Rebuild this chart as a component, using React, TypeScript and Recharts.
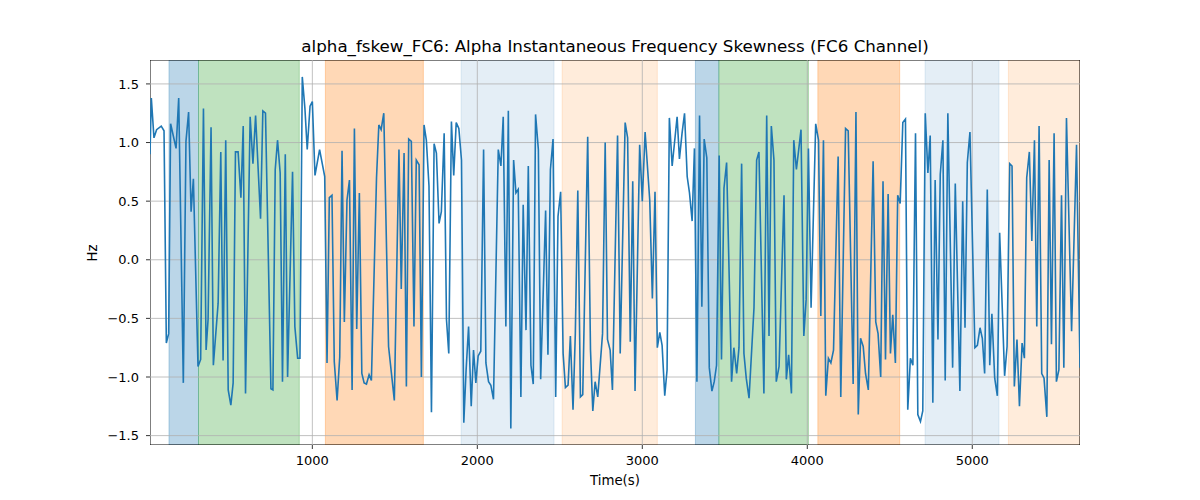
import React from "react";
import { LineChart, Line, XAxis, YAxis, ReferenceArea, ReferenceLine } from "recharts";

const times = [
  16, 24, 40, 56, 84, 101, 115, 129, 141, 174,
  190, 218, 234, 250, 265, 279, 307, 323, 340, 356,
  368, 386, 400, 429, 445, 459, 475, 490, 506, 520,
  534, 550, 567, 581, 595, 623, 640, 656, 686, 700,
  716, 749, 761, 775, 789, 805, 819, 836, 850, 880,
  894, 911, 925, 939, 955, 969, 986, 1000, 1016, 1044,
  1075, 1089, 1103, 1119, 1133, 1150, 1166, 1180, 1194, 1210,
  1225, 1241, 1255, 1269, 1285, 1300, 1314, 1328, 1344, 1358,
  1389, 1403, 1417, 1433, 1462, 1497, 1525, 1539, 1556, 1570,
  1584, 1600, 1616, 1630, 1647, 1661, 1677, 1691, 1707, 1722,
  1738, 1752, 1768, 1782, 1799, 1813, 1827, 1843, 1857, 1872,
  1888, 1904, 1918, 1932, 1947, 1963, 1977, 1991, 2005, 2021,
  2038, 2052, 2068, 2082, 2098, 2127, 2143, 2157, 2173, 2188,
  2203, 2220, 2234, 2248, 2264, 2278, 2295, 2309, 2325, 2339,
  2353, 2370, 2384, 2414, 2428, 2443, 2459, 2475, 2489, 2505,
  2520, 2534, 2550, 2564, 2580, 2594, 2609, 2625, 2639, 2669,
  2686, 2700, 2714, 2730, 2759, 2775, 2789, 2805, 2819, 2850,
  2866, 2896, 2911, 2927, 2942, 2956, 2984, 3000, 3017, 3045,
  3061, 3077, 3091, 3106, 3120, 3136, 3150, 3164, 3181, 3211,
  3225, 3241, 3256, 3272, 3286, 3302, 3316, 3331, 3347, 3361,
  3375, 3391, 3406, 3422, 3436, 3450, 3466, 3480, 3495, 3511,
  3541, 3555, 3572, 3586, 3602, 3616, 3630, 3647, 3677, 3693,
  3707, 3737, 3754, 3768, 3782, 3798, 3812, 3829, 3859, 3873,
  3887, 3904, 3918, 3934, 3948, 3962, 3979, 3993, 4007, 4023,
  4051, 4068, 4082, 4098, 4112, 4128, 4143, 4159, 4187, 4203,
  4232, 4248, 4278, 4295, 4309, 4323, 4339, 4353, 4370, 4399,
  4415, 4429, 4445, 4459, 4474, 4490, 4504, 4518, 4534, 4548,
  4563, 4579, 4595, 4609, 4625, 4640, 4656, 4670, 4686, 4700,
  4715, 4731, 4745, 4761, 4775, 4792, 4806, 4822, 4836, 4852,
  4881, 4897, 4925, 4942, 4956, 4970, 4986, 5016, 5031, 5047,
  5061, 5075, 5091, 5106, 5119, 5136, 5152, 5166, 5196, 5211,
  5227, 5241, 5255, 5271, 5286, 5302, 5316, 5330, 5346, 5361,
  5377, 5391, 5405, 5421, 5435, 5452, 5466, 5480, 5496, 5510,
  5525, 5541, 5555, 5571, 5602, 5632, 5653,
];

const hzValues = [
  0.9, 1.38, 1.04, 1.11, 1.14, 1.1, -0.71, -0.63, 1.16, 0.95,
  1.38, -1.05, 1.01, 1.26, 0.41, 0.69, -0.91, -0.85, 1.29, -0.77,
  -0.51, 1.13, -0.9, -0.37, 0.92, -0.86, 1.02, -1.11, -1.24, -1.05,
  0.92, 0.92, 0.53, 1.14, -1.14, 1.22, 0.82, 1.23, 0.35, 1.27,
  1.25, -1.1, -1.11, 0.77, 1.02, 0.74, -1.04, 0.9, -1.0, 0.75,
  -0.57, -0.84, -0.84, 1.56, 1.29, 0.94, 1.31, 1.35, 0.72, 0.94,
  0.71, -0.88, 0.53, 0.55, -0.87, -1.2, -0.83, 0.93, -0.53, 0.51,
  0.68, -1.11, 1.12, -0.59, 0.57, -0.97, -1.05, -1.06, -0.98, -1.03,
  0.7, 1.15, 1.11, 1.25, -0.74, -1.2, 0.94, -0.25, 0.91, -1.08,
  1.03, 1.01, -0.57, 0.85, 0.81, -1.0, 1.15, 1.02, 0.63, -1.3,
  0.99, 0.91, 0.31, 0.41, 1.08, -0.51, -0.8, 1.18, 0.72, 1.17,
  1.12, 0.85, -1.39, -0.94, -0.57, -1.25, -0.77, -1.05, -0.82, -0.78,
  0.94, -0.88, -1.04, -1.07, -1.19, 0.94, 0.8, 1.22, -0.57, 1.27,
  -1.44, 0.85, 0.57, 0.6, -1.17, 0.47, -0.6, 0.8, -0.9, -1.06,
  1.24, 0.94, -1.02, 0.42, -0.81, 0.77, 1.03, -1.17, 0.37, 0.58,
  -0.8, -1.09, -1.07, -0.65, -1.28, -0.63, 0.59, -1.17, -1.15, 1.05,
  -0.77, -1.29, -1.04, -1.17, -0.63, 1.0, -0.68, -0.77, -1.11, 1.06,
  -0.8, 1.17, 1.04, -0.7, 0.67, -1.12, 0.98, 0.5, 1.09, 0.51,
  -0.33, 0.58, -0.75, -0.62, -0.73, -1.16, -0.94, 1.21, 0.8, 1.22,
  0.86, 1.08, 1.25, 0.71, 0.57, 0.33, 0.95, -1.04, 1.23, -0.4,
  1.03, 0.87, -0.92, -1.12, -1.04, -0.9, 0.89, -0.85, 0.61, 0.83,
  -1.04, -0.75, -0.97, -0.75, 0.82, -0.8, -1.01, -1.18, -0.41, 0.85,
  0.92, -1.14, 1.23, -0.65, 1.14, 0.85, -1.04, -0.91, 0.55, -1.02,
  -0.81, -1.14, 1.02, 0.77, 0.94, 1.11, -0.65, -0.34, 0.95, -0.41,
  1.16, 1.02, -0.48, 1.02, -1.16, -0.84, -0.88, -0.77, 0.88, -1.17,
  1.12, 1.1, -1.06, 1.26, -1.32, -0.67, -0.74, -0.97, -1.11, 0.84,
  -0.53, -0.63, -1.0, 0.67, -0.85, 0.56, -0.8, -0.47, -0.88, 0.55,
  0.48, 1.17, 1.2, -1.28, -0.84, -0.9, 1.08, -1.32, -1.38, -1.29,
  1.25, 0.74, 1.06, -1.22, 0.68, -0.68, 0.73, 1.02, -1.03, 1.25,
  -0.92, 0.65, -1.12, 0.5, -0.58, 0.83, 1.09, -0.75, -0.73, -0.58,
  -0.67, -0.97, 0.6, -0.9, -0.46, -1.01, -1.16, 0.23, -0.99, -0.74,
  0.82, 0.8, -1.08, -0.68, -1.25, -0.71, -0.84, 0.7, 0.92, 0.16,
  1.02, -0.57, 1.14, -0.97, -1.01, -1.34, 0.85, -0.72, 1.08, -1.04,
  -0.94, 0.55, -0.92, 1.21, -0.61, 0.98, -0.92,
];

// shaded segments: start, end, kind (0 = blue strong, 1 = green, 2 = orange, 3 = blue light, 4 = orange light)
const spanStarts = [131, 310, 1079, 1902, 2514, 3322, 3464, 4064, 4714, 5219];
const spanEnds = [310, 921, 1673, 2465, 3091, 3464, 4007, 4560, 5162, 5653];
const spanKinds = [0, 1, 2, 3, 4, 0, 1, 2, 3, 4];

const xTicks = [1000, 2000, 3000, 4000, 5000];
const yTicks = [-1.5, -1.0, -0.5, 0.0, 0.5, 1.0, 1.5];

const X_DOMAIN: [number, number] = [16, 5653];
const Y_DOMAIN: [number, number] = [-1.58, 1.704];

const KIND_STYLE = [
  { color: "#1f77b4", opacity: 0.3 },
  { color: "#2ca02c", opacity: 0.3 },
  { color: "#ff7f0e", opacity: 0.3 },
  { color: "#1f77b4", opacity: 0.12 },
  { color: "#ff7f0e", opacity: 0.15 },
];

const data = times.map((t, i) => ({ t, v: hzValues[i] }));

const FONT = "'DejaVu Sans', sans-serif";
const TICK_FS = 13;
const LABEL_FS = 13.3;
const fmtY = (v: number) => (v < 0 ? "\u2212" + Math.abs(v).toFixed(1) : v.toFixed(1));

export default function App() {
  return (
    <div style={{ position: "absolute", left: 0, top: 0, width: 1200, height: 500, background: "#fff", fontFamily: FONT }}>
      <div
        style={{
          position: "absolute",
          left: 150,
          width: 930,
          top: 36,
          lineHeight: "20px",
          fontSize: 16.7,
          textAlign: "center",
          color: "#000",
          whiteSpace: "nowrap",
        }}
      >
        alpha_fskew_FC6: Alpha Instantaneous Frequency Skewness (FC6 Channel)
      </div>
      <div
        style={{
          position: "absolute",
          left: 150,
          width: 930,
          top: 473,
          lineHeight: "16px",
          fontSize: LABEL_FS,
          textAlign: "center",
          color: "#000",
        }}
      >
        Time(s)
      </div>
      <div
        style={{
          position: "absolute",
          left: 93,
          top: 252.5,
          fontSize: LABEL_FS,
          lineHeight: "16px",
          color: "#000",
          transform: "translate(-50%, -50%) rotate(-90deg)",
          whiteSpace: "nowrap",
        }}
      >
        Hz
      </div>
      <LineChart width={1200} height={500} data={data} margin={{ top: 60, right: 120, bottom: 0, left: 0 }}>
        <XAxis
          type="number"
          dataKey="t"
          domain={X_DOMAIN}
          ticks={xTicks}
          allowDataOverflow
          height={55}
          axisLine={false}
          tickSize={4}
          tickMargin={7}
          tickLine={{ stroke: "#000", strokeWidth: 0.8 }}
          tick={{ fill: "#000", fontSize: TICK_FS, fontFamily: FONT }}
        />
        <YAxis
          type="number"
          domain={Y_DOMAIN}
          ticks={yTicks}
          allowDataOverflow
          width={150}
          axisLine={false}
          tickSize={4}
          tickMargin={7}
          tickFormatter={fmtY}
          tickLine={{ stroke: "#000", strokeWidth: 0.8 }}
          tick={{ fill: "#000", fontSize: TICK_FS, fontFamily: FONT }}
        />
        {spanStarts.map((s, i) => {
          const st = KIND_STYLE[spanKinds[i]];
          return (
            <ReferenceArea
              key={"span" + i}
              x1={s}
              x2={spanEnds[i]}
              y1={Y_DOMAIN[0]}
              y2={Y_DOMAIN[1]}
              fill={st.color}
              fillOpacity={st.opacity}
              stroke={st.color}
              strokeOpacity={st.opacity}
              strokeWidth={1}
              ifOverflow="hidden"
            />
          );
        })}
        {xTicks.map((x) => (
          <ReferenceLine key={"gx" + x} x={x} stroke="#b0b0b0" strokeWidth={0.8} />
        ))}
        {yTicks.map((y) => (
          <ReferenceLine key={"gy" + y} y={y} stroke="#b0b0b0" strokeWidth={0.8} />
        ))}
        <Line
          type="linear"
          dataKey="v"
          stroke="#1f77b4"
          strokeWidth={1.6}
          dot={false}
          isAnimationActive={false}
        />
        <ReferenceArea
          x1={X_DOMAIN[0]}
          x2={X_DOMAIN[1]}
          y1={Y_DOMAIN[0]}
          y2={Y_DOMAIN[1]}
          fill="none"
          stroke="#000"
          strokeWidth={1}
          ifOverflow="hidden"
        />
      </LineChart>
    </div>
  );
}
